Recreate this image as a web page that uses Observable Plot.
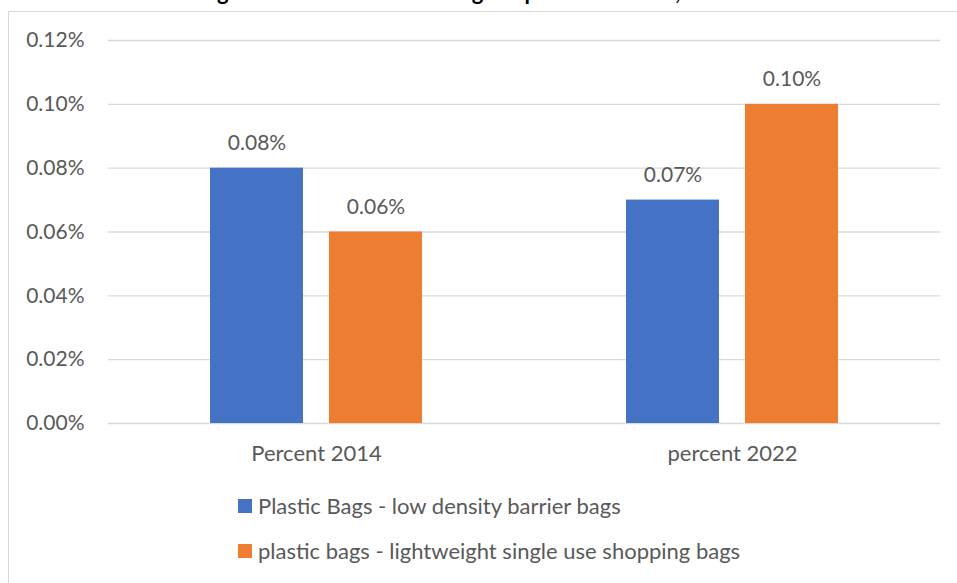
<!DOCTYPE html>
<html>
<head>
<meta charset="utf-8">
<script src="https://cdn.jsdelivr.net/npm/d3@7"></script>
<script src="https://cdn.jsdelivr.net/npm/@observablehq/plot@0.6"></script>
<style>
  html, body { margin: 0; padding: 0; background: #fff; overflow: hidden; }
  body { width: 957px; height: 583px; position: relative; font-family: Lato, "Open Sans", sans-serif; }
  #frame { position: absolute; left: 8px; top: 11px; width: 960px; height: 600px; border: 1px solid #d9d9d9; box-sizing: border-box; }
  #title { position: absolute; left: 8px; width: 949px; top: -21px; text-align: center; font-weight: bold; font-size: 22px; line-height: 26px; color: #000; white-space: nowrap; }
  #chart { position: absolute; left: 0; top: 0; }
  .legend-item { position: absolute; left: 238px; display: flex; align-items: center; font-size: 22px; color: #595959; white-space: nowrap; }
  .swatch { width: 14px; height: 14px; margin-right: 6px; }
</style>
</head>
<body>
<div id="frame"></div>
<div id="title">Percentage of all recorded litter: bags as percent of total, 2014 and 2022</div>
<div id="chart"></div>
<div id="legend"></div>
<script>
// Categories along the x axis
const categories = ["Percent 2014", "percent 2022"];
// Series names (legend order)
const series = [
  "Plastic Bags - low density barrier bags",
  "plastic bags - lightweight single use shopping bags"
];
// Values in percent, one per category
const lowDensityBags = [0.08, 0.07];
const lightweightBags = [0.06, 0.10];
// Series colours
const seriesColors = ["#4472C4", "#ED7D31"];
// Y-axis ticks (percent)
const yTicks = [0, 0.02, 0.04, 0.06, 0.08, 0.10, 0.12];

const rows = [];
categories.forEach((c, i) => {
  rows.push({category: c, series: series[0], value: lowDensityBags[i]});
  rows.push({category: c, series: series[1], value: lightweightBags[i]});
});

const fmt = d => d.toFixed(2) + "%";

const chart = Plot.plot({
  width: 957,
  height: 480,
  marginLeft: 108,
  marginRight: 17,
  marginTop: 40,
  marginBottom: 57,
  style: {fontFamily: "Lato, 'Open Sans', sans-serif", color: "#595959", background: "transparent"},
  fx: {domain: categories, padding: 0, label: null},
  x: {domain: series, paddingInner: 0.2185, paddingOuter: 0.857, axis: null},
  y: {domain: [0, 0.12], ticks: yTicks, label: null},
  color: {domain: series, range: seriesColors},
  marks: [
    Plot.gridY(yTicks, {stroke: "#d9d9d9", strokeOpacity: 1, strokeWidth: 1.3}),
    Plot.axisY(yTicks, {tickSize: 0, tickPadding: 24, tickFormat: fmt, fontSize: 21, label: null, fill: "#595959"}),
    Plot.axisFx({anchor: "bottom", tickSize: 0, tickPadding: 22, fontSize: 22, label: null, fill: "#595959"}),
    Plot.barY(rows, {fx: "category", x: "series", y: "value", fill: "series"}),
    Plot.text(rows, {fx: "category", x: "series", y: "value", text: d => fmt(d.value), lineAnchor: "bottom", dy: -18, fontSize: 21, fill: "#595959"})
  ]
});
document.getElementById("chart").appendChild(chart);

// Legend below the plot
const legend = document.getElementById("legend");
series.forEach((s, i) => {
  const item = document.createElement("div");
  item.className = "legend-item";
  item.style.top = (i === 0 ? 492 : 537) + "px";
  const sw = document.createElement("div");
  sw.className = "swatch";
  sw.style.background = seriesColors[i];
  const label = document.createElement("span");
  label.textContent = s;
  item.appendChild(sw);
  item.appendChild(label);
  legend.appendChild(item);
});
</script>
</body>
</html>
